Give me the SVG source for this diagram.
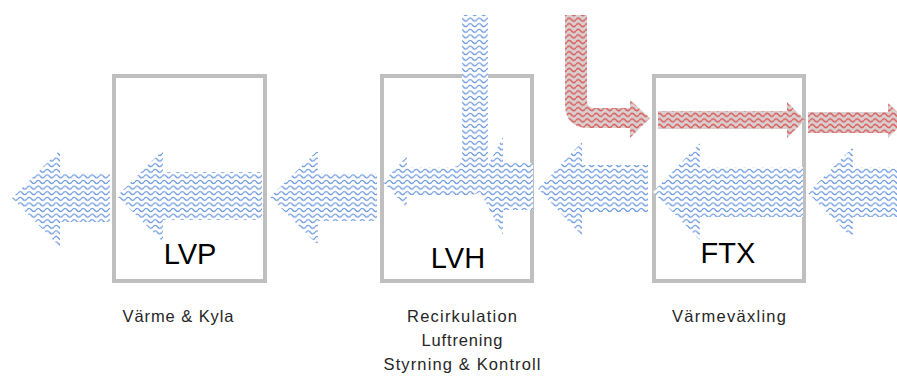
<svg xmlns="http://www.w3.org/2000/svg" width="897" height="391" viewBox="0 0 897 391">
  <defs>
    <pattern id="blueWave" patternUnits="userSpaceOnUse" width="9" height="5.6">
      <rect width="9" height="5.6" fill="#ffffff"/>
      <path d="M0 2.8 C1.5 0.8 3 0.8 4.5 2.8 S7.5 4.8 9 2.8" fill="none" stroke="#6a98e0" stroke-width="1.25"/>
    </pattern>
    <pattern id="redWave" patternUnits="userSpaceOnUse" width="9" height="5.6">
      <rect width="9" height="5.6" fill="#dacfcf"/>
      <path d="M0 2.8 C1.5 0.8 3 0.8 4.5 2.8 S7.5 4.8 9 2.8" fill="none" stroke="#d95f5f" stroke-width="1.5"/>
    </pattern>
  </defs>
  <style>
    .box { fill: #ffffff; stroke: #bfbfbf; stroke-width: 4; }
    .big { font-family: "Liberation Sans", Arial, sans-serif; font-size: 29px; fill: #000000; text-anchor: middle; }
    .small { font-family: "Liberation Sans", Arial, sans-serif; font-size: 16.5px; fill: #262626; text-anchor: middle; }
    .blue { fill: url(#blueWave); }
    .red { fill: url(#redWave); }
  </style>
  <rect width="897" height="391" fill="#ffffff"/>

  <g id="node-lvp">
    <rect class="box" x="114" y="76" width="151" height="205"/>
  </g>
  <g id="node-lvh">
    <rect class="box" x="382" y="76" width="150" height="205"/>
  </g>
  <g id="node-ftx">
    <rect class="box" x="654" y="76" width="150" height="205"/>
  </g>

  <g id="connectors">
    <polygon class="blue" points="12,198 60,150 60,173 110,173 110,222 60,222 60,247"/>
    <polygon class="blue" points="117,196 163,150 163,172 262,172 262,220 163,220 163,242"/>
    <polygon class="blue" points="270,197 318,150 318,173 377,173 377,221 318,221 318,245"/>
    <path class="blue" d="M462,15 L488,15 L488,175 Q488,195 468,195 L407,195 L407,208 L383,182 L407,156 L407,167 L452,167 Q462,167 462,157 Z"/>
    <polygon class="blue" points="477,186 503,137 503,163 533,163 533,210 503,210 503,235"/>
    <polygon class="blue" points="538,189 582,142 582,165 648,165 648,212 582,212 582,236"/>
    <polygon class="blue" points="653,192 700,143 700,167 803,167 803,217 700,217 700,240"/>
    <polygon class="blue" points="808,193 853,147 853,167 900,167 900,217 853,217 853,239"/>

    <path class="red" d="M565,15 L587,15 L587,101 Q587,108 594,108 L630,108 L630,100 L650,118 L630,138 L630,128 L589,128 Q565,128 565,104 Z"/>
    <polygon class="red" points="658,111 787,111 787,102 805,120 787,138 787,129 658,129"/>
    <polygon class="red" points="808,112 888,112 888,103 906,120 888,138 888,133 808,133"/>
  </g>

  <g id="labels">
    <text class="big" x="190" y="264">LVP</text>
    <text class="big" x="458" y="268">LVH</text>
    <text class="big" x="728" y="263">FTX</text>
    <text class="small" x="178" y="322" textLength="111" lengthAdjust="spacing">Värme &amp; Kyla</text>
    <text class="small" x="462" y="322" textLength="110" lengthAdjust="spacing">Recirkulation</text>
    <text class="small" x="462" y="346" textLength="81" lengthAdjust="spacing">Luftrening</text>
    <text class="small" x="462" y="370" textLength="157" lengthAdjust="spacing">Styrning &amp; Kontroll</text>
    <text class="small" x="729" y="322" textLength="114" lengthAdjust="spacing">Värmeväxling</text>
  </g>
</svg>
